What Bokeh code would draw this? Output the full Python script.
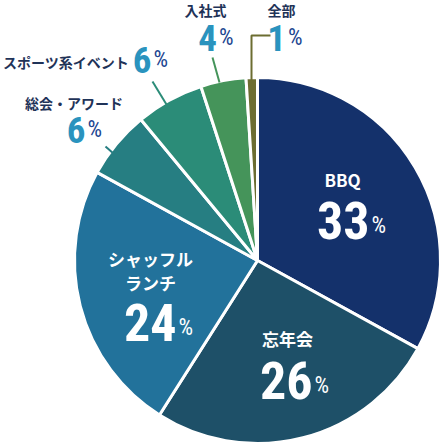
import numpy as np
from bokeh.plotting import figure
from bokeh.models import Range1d, ColumnDataSource
from bokeh.core.properties import value
from bokeh.embed import file_html
from bokeh.resources import INLINE

# ---- data ----
categories = ["BBQ", "忘年会", "シャッフルランチ", "総会・アワード", "スポーツ系イベント", "入社式", "全部"]
percents = [33, 26, 24, 6, 6, 4, 1]
colors = ["#14316b", "#1e5068", "#22729b", "#267e82", "#2b8c78", "#45945a", "#6c6d31"]
display_names = ["BBQ", "忘年会", "シャッフル\nランチ", "総会・アワード", "スポーツ系イベント", "入社式", "全部"]

# ---- layout (pixel coordinates, y measured from top) ----
W, H = 444, 448
def fy(v):
    return H - np.asarray(v, dtype=float)

CX, CY, R = 257, 260, 183

inside_idx = [0, 1, 2]
inside_name_xy = [(342, 179), (287, 338), (150, 270)]
inside_num_xy = [(369, 238), (312, 398), (176, 340)]

outside_idx = [3, 4, 5, 6]
outside_name_xy = [(73.5, 102), (65.5, 61), (205, 9), (281, 9)]
outside_num_xy = [(85, 142), (151, 72), (216.5, 50), (285.5, 50)]
leaders = [
    [(105, 146), (113, 153)],
    [(152, 81), (166, 104)],
    [(212, 57), (219, 82)],
    [(270, 35), (251, 35), (251, 80)],
]

NAME_FONT = value("Noto Sans CJK JP")
NUM_FONT = value("Roboto Condensed")

p = figure(width=W, height=H, x_range=Range1d(0, W), y_range=Range1d(0, H),
           output_backend="svg", toolbar_location=None, min_border=0)
p.axis.visible = False
p.grid.visible = False
p.outline_line_color = None

# wedges
frac = np.array(percents, dtype=float) / sum(percents)
cum = np.concatenate([[0.0], np.cumsum(frac)])
start = np.pi / 2 - 2 * np.pi * cum[:-1]
end = np.pi / 2 - 2 * np.pi * cum[1:]
src = ColumnDataSource(dict(start=start, end=end, color=colors))
p.wedge(x=CX, y=float(fy(CY)), radius=R, start_angle="start", end_angle="end",
        direction="clock", fill_color="color", line_color="white", line_width=3, source=src)

# leader lines
p.multi_line(xs=[[pt[0] for pt in l] for l in leaders],
             ys=[list(fy([pt[1] for pt in l])) for l in leaders],
             line_color=[colors[i] for i in outside_idx], line_width=2)

# inside labels
p.text(x=[xy[0] for xy in inside_name_xy], y=list(fy([xy[1] for xy in inside_name_xy])),
       text=[display_names[i] for i in inside_idx], text_font=NAME_FONT,
       text_font_style="bold", text_font_size="17px", text_color="white",
       text_align="center", text_baseline="middle", text_line_height=0.95)
p.text(x=[xy[0] for xy in inside_num_xy], y=list(fy([xy[1] for xy in inside_num_xy])),
       text=[str(percents[i]) for i in inside_idx], text_font=NUM_FONT,
       text_font_style="bold", text_font_size="52px", text_color="white",
       text_align="right", text_baseline="bottom")
p.text(x=[xy[0] + 2 for xy in inside_num_xy], y=list(fy([xy[1] for xy in inside_num_xy])),
       text=["%"] * len(inside_idx), text_font=NUM_FONT,
       text_font_size="23px", text_color="white",
       text_align="left", text_baseline="bottom")

# outside labels
p.text(x=[xy[0] for xy in outside_name_xy], y=list(fy([xy[1] for xy in outside_name_xy])),
       text=[display_names[i] for i in outside_idx], text_font=NAME_FONT,
       text_font_style="bold", text_font_size="14px", text_color="#1f3358",
       text_align="center", text_baseline="middle")
p.text(x=[xy[0] for xy in outside_num_xy], y=list(fy([xy[1] for xy in outside_num_xy])),
       text=[str(percents[i]) for i in outside_idx], text_font=NUM_FONT,
       text_font_style="bold", text_font_size="37px", text_color="#2a93be",
       text_align="right", text_baseline="bottom")
p.text(x=[xy[0] + 2 for xy in outside_num_xy], y=list(fy([xy[1] for xy in outside_num_xy])),
       text=["%"] * len(outside_idx), text_font=NUM_FONT,
       text_font_size="23px", text_color="#1b4590",
       text_align="left", text_baseline="bottom")

open("out.html", "w").write(file_html(p, INLINE))
